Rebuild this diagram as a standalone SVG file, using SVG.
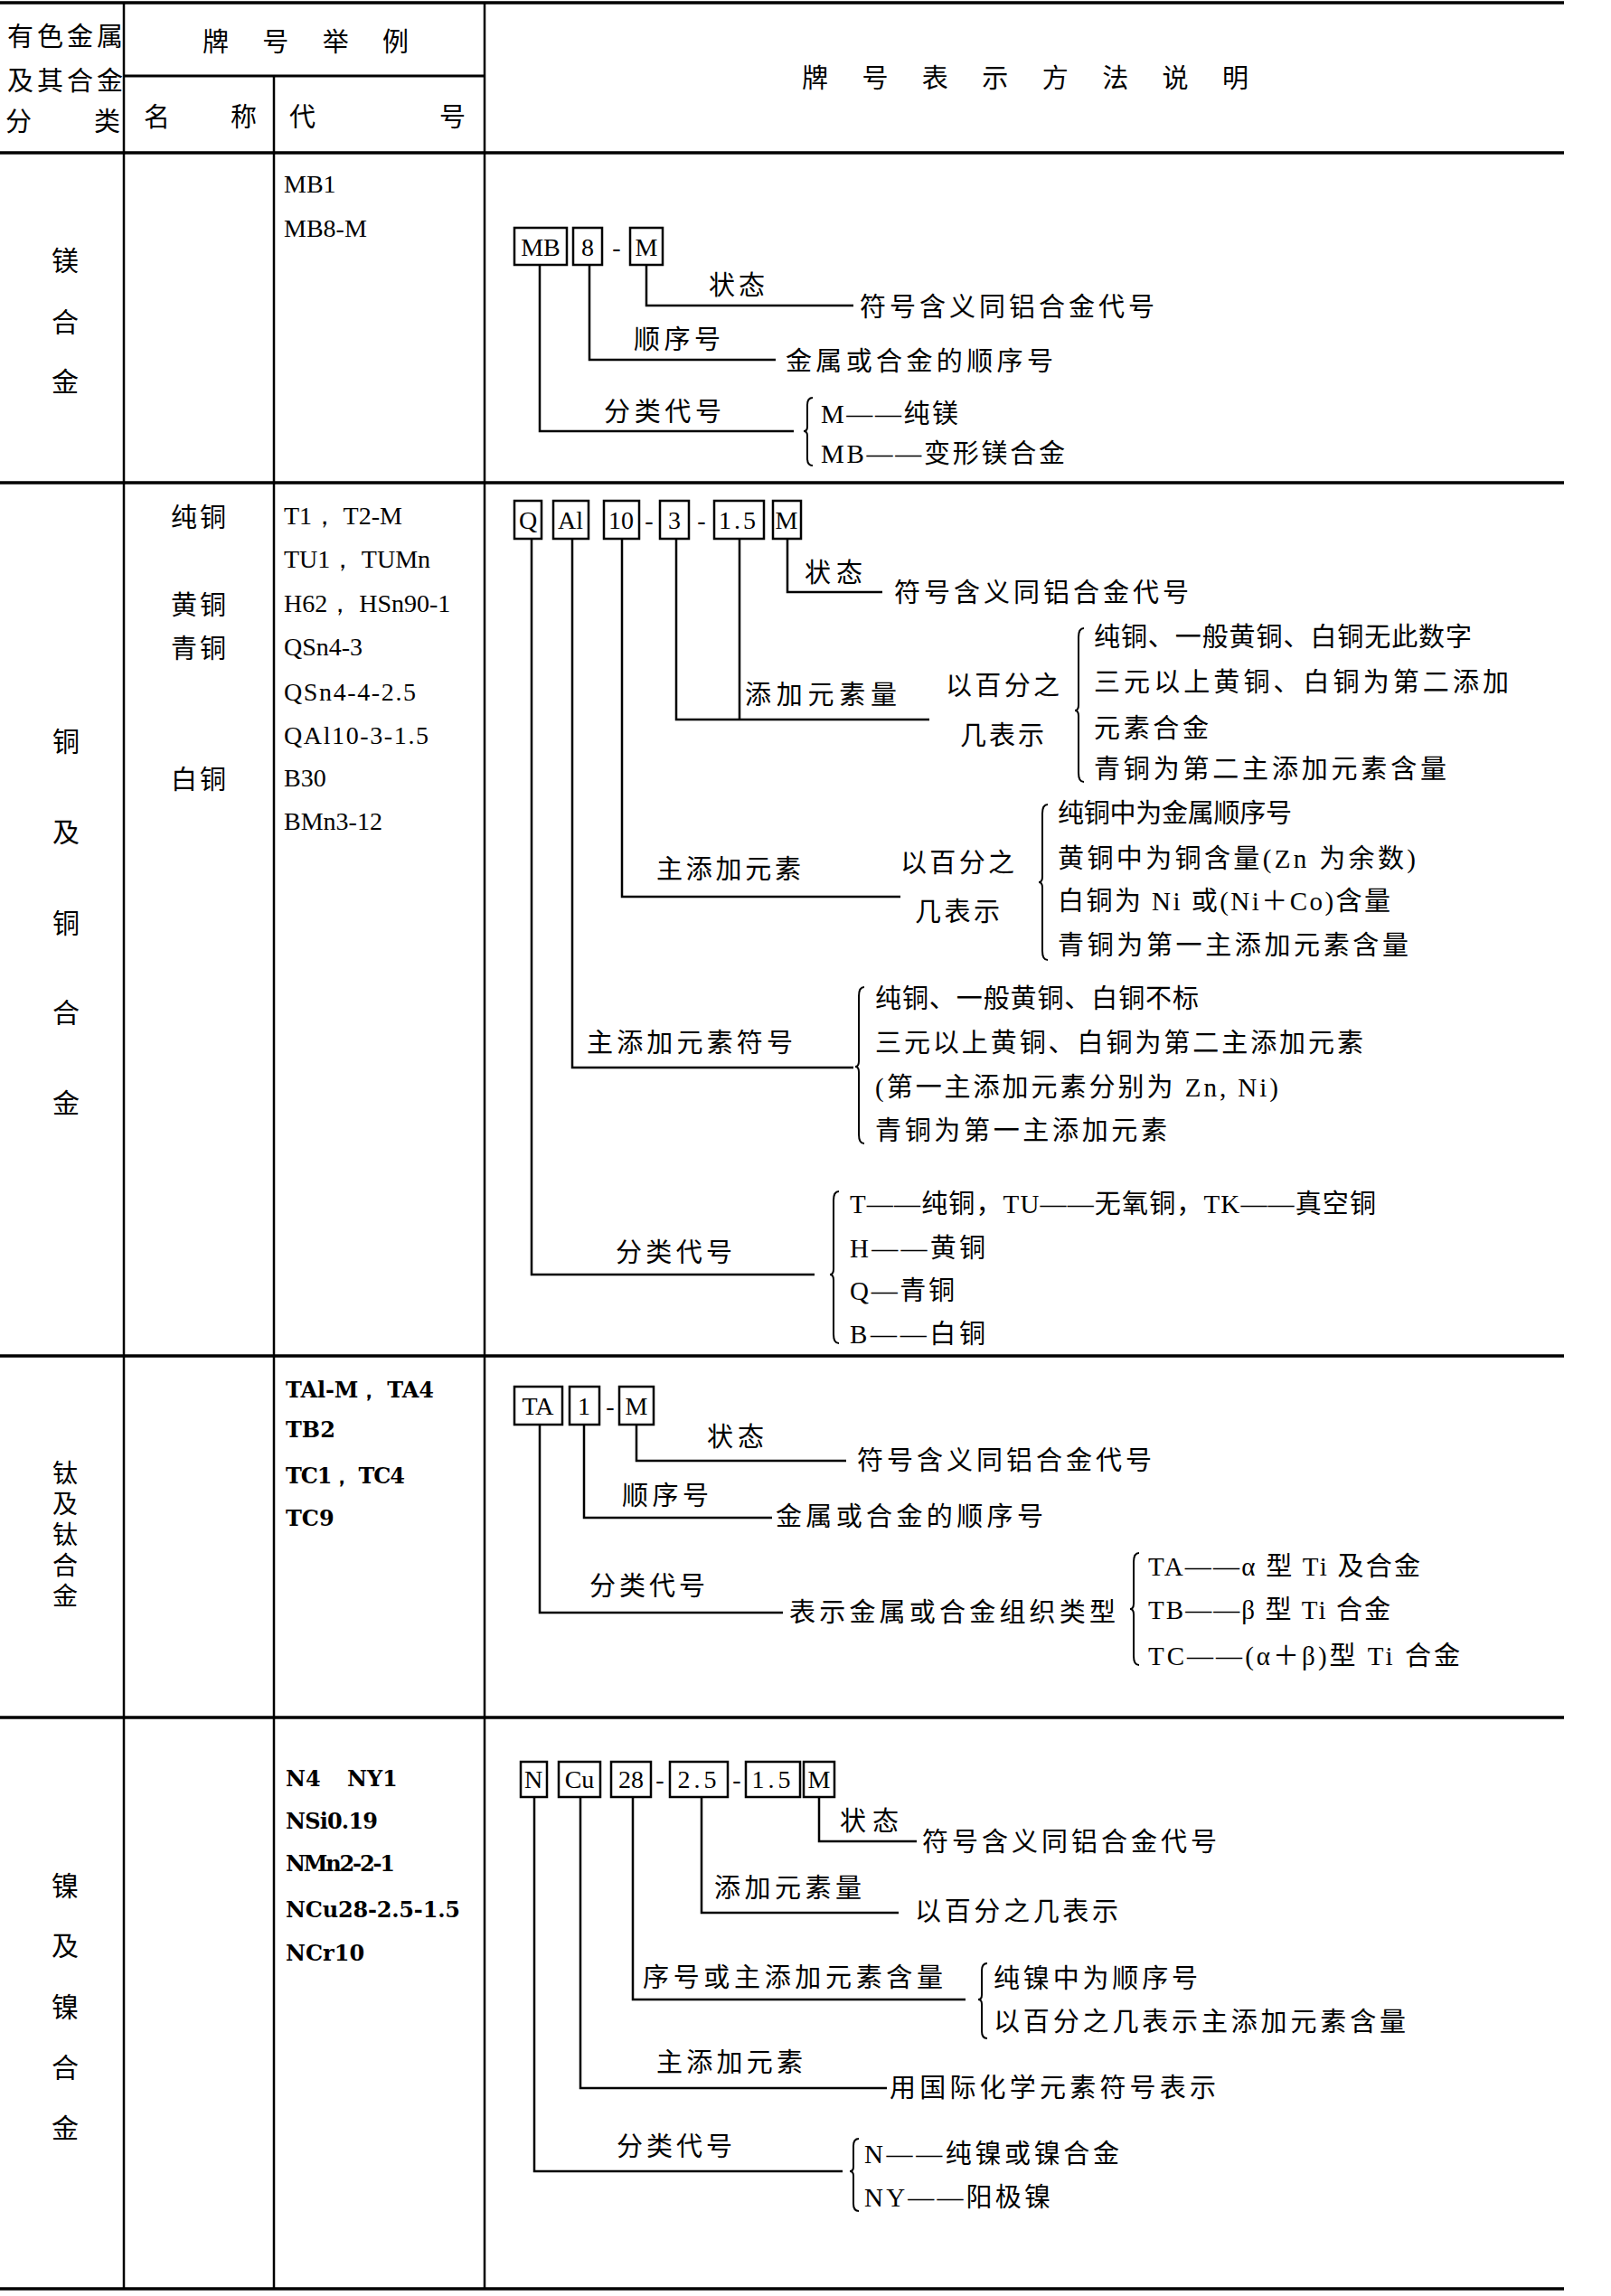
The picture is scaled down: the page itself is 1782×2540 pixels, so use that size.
<svg xmlns="http://www.w3.org/2000/svg" width="1782" height="2540" viewBox="0 0 1782 2540">
<style>
text{dominant-baseline:central;fill:#000}
.t{font-family:"Liberation Serif","Noto Sans CJK SC",serif;font-size:29px}
.c{font-family:"Noto Sans CJK SC",sans-serif;font-size:29px}
.cat{font-family:"Noto Sans CJK SC",sans-serif;font-size:30px;text-anchor:middle}
.code{font-family:"Liberation Serif",serif;font-size:28px}
.dj{font-family:"DejaVu Serif",serif;font-weight:bold;font-size:24px}
.bt{font-family:"Liberation Serif",serif;font-size:28px;text-anchor:middle}
.hl{stroke:#000;stroke-width:3.5;fill:none}
.vl{stroke:#000;stroke-width:2.5;fill:none}
.ln{stroke:#000;stroke-width:2.5;fill:none}
.br{stroke:#000;stroke-width:2;fill:none}
.bx{fill:#fff;stroke:#000;stroke-width:2.5}
</style>
<rect width="1782" height="2540" fill="#fff"/>

<g id="table">
<path class="hl" d="M0,3 H1730 M0,169 H1730 M0,534 H1730 M0,1500 H1730 M0,1900 H1730 M0,2532 H1730"/>
<path class="hl" d="M137,84 H536" style="stroke-width:3"/>
<path class="vl" d="M137,3 V2532 M303,84 V2532 M536,3 V2532"/>
</g>

<g id="header">
<text class="c" x="8" y="38" textLength="128" font-size="30">有色金属</text>
<text class="c" x="8" y="87" textLength="128" font-size="30">及其合金</text>
<text class="c" x="6" y="132" font-size="30">分</text>
<text class="c" x="104" y="132" font-size="30">类</text>
<text class="c" x="224" y="44" textLength="228">牌号举例</text>
<text class="c" x="159" y="127">名</text>
<text class="c" x="255" y="127">称</text>
<text class="c" x="320" y="127">代</text>
<text class="c" x="486" y="127">号</text>
<text class="c" x="887" y="84" textLength="494">牌号表示方法说明</text>
</g>

<g id="categories">
<text class="cat" x="72" y="286">镁</text>
<text class="cat" x="72" y="354">合</text>
<text class="cat" x="72" y="420">金</text>
<text class="cat" x="73" y="818">铜</text>
<text class="cat" x="73" y="918">及</text>
<text class="cat" x="73" y="1019">铜</text>
<text class="cat" x="73" y="1118">合</text>
<text class="cat" x="73" y="1218">金</text>
<text class="cat" x="72" y="1615" writing-mode="vertical-rl" style="text-anchor:start;font-size:28px" letter-spacing="6">钛及钛合金</text>
<text class="cat" x="72" y="2084">镍</text>
<text class="cat" x="72" y="2150">及</text>
<text class="cat" x="72" y="2218">镍</text>
<text class="cat" x="72" y="2285">合</text>
<text class="cat" x="72" y="2352">金</text>
</g>

<g id="names">
<text class="c" x="189" y="570" textLength="61">纯铜</text>
<text class="c" x="189" y="667" textLength="61">黄铜</text>
<text class="c" x="189" y="715" textLength="61">青铜</text>
<text class="c" x="189" y="860" textLength="61">白铜</text>
</g>

<g id="codes">
<text class="code" x="314" y="203">MB1</text>
<text class="code" x="314" y="252">MB8-M</text>
<text class="code" x="314" y="570">T1， T2-M</text>
<text class="code" x="314" y="618">TU1， TUMn</text>
<text class="code" x="314" y="667">H62， HSn90-1</text>
<text class="code" x="314" y="715">QSn4-3</text>
<text class="code" x="314" y="765" textLength="146">QSn4-4-2.5</text>
<text class="code" x="314" y="813" textLength="160">QAl10-3-1.5</text>
<text class="code" x="314" y="860">B30</text>
<text class="code" x="314" y="908">BMn3-12</text>
<text class="dj" x="316" y="1537" textLength="164">TAl-M， TA4</text>
<text class="dj" x="316" y="1581">TB2</text>
<text class="dj" x="316" y="1632" textLength="132">TC1， TC4</text>
<text class="dj" x="316" y="1679">TC9</text>
<text class="dj" x="316" y="1967">N4</text>
<text class="dj" x="384" y="1967">NY1</text>
<text class="dj" x="316" y="2014" textLength="102">NSi0.19</text>
<text class="dj" x="316" y="2061" textLength="121">NMn2-2-1</text>
<text class="dj" x="316" y="2112" textLength="193">NCu28-2.5-1.5</text>
<text class="dj" x="316" y="2160">NCr10</text>
</g>

<!-- Magnesium -->
<g id="mg-boxes">
<g id="mg-MB"><rect class="bx" x="569" y="252" width="58" height="41"/><text class="bt" x="598" y="273">MB</text></g>
<g id="mg-8"><rect class="bx" x="634" y="252" width="32" height="41"/><text class="bt" x="650" y="273">8</text></g>
<text class="bt" x="682" y="273">-</text>
<g id="mg-M"><rect class="bx" x="697" y="252" width="36" height="41"/><text class="bt" x="715" y="273">M</text></g>
</g>

<!-- Copper -->
<g id="cu-boxes">
<g id="cu-Q"><rect class="bx" x="569" y="554" width="30" height="42"/><text class="bt" x="584" y="575">Q</text></g>
<g id="cu-Al"><rect class="bx" x="612" y="554" width="39" height="42"/><text class="bt" x="631" y="575">Al</text></g>
<g id="cu-10"><rect class="bx" x="668" y="554" width="39" height="42"/><text class="bt" x="687" y="575">10</text></g>
<text class="bt" x="718" y="575">-</text>
<g id="cu-3"><rect class="bx" x="730" y="554" width="32" height="42"/><text class="bt" x="746" y="575">3</text></g>
<text class="bt" x="776" y="575">-</text>
<g id="cu-15"><rect class="bx" x="790" y="554" width="55" height="42"/><text class="bt" x="817" y="575" letter-spacing="3">1.5</text></g>
<g id="cu-M"><rect class="bx" x="855" y="554" width="31" height="42"/><text class="bt" x="870" y="575">M</text></g>
</g>

<!-- Titanium -->
<g id="ti-boxes">
<g id="ti-TA"><rect class="bx" x="569" y="1534" width="53" height="42"/><text class="bt" x="595" y="1555">TA</text></g>
<g id="ti-1"><rect class="bx" x="630" y="1534" width="33" height="42"/><text class="bt" x="646" y="1555">1</text></g>
<text class="bt" x="675" y="1555">-</text>
<g id="ti-M"><rect class="bx" x="685" y="1534" width="38" height="42"/><text class="bt" x="704" y="1555">M</text></g>
</g>

<!-- Nickel -->
<g id="ni-boxes">
<g id="ni-N"><rect class="bx" x="576" y="1949" width="29" height="39"/><text class="bt" x="590" y="1968">N</text></g>
<g id="ni-Cu"><rect class="bx" x="618" y="1949" width="46" height="39"/><text class="bt" x="641" y="1968">Cu</text></g>
<g id="ni-28"><rect class="bx" x="676" y="1949" width="44" height="39"/><text class="bt" x="698" y="1968">28</text></g>
<text class="bt" x="730" y="1968">-</text>
<g id="ni-25"><rect class="bx" x="741" y="1949" width="64" height="39"/><text class="bt" x="773" y="1968" letter-spacing="4">2.5</text></g>
<text class="bt" x="815" y="1968">-</text>
<g id="ni-15"><rect class="bx" x="825" y="1949" width="60" height="39"/><text class="bt" x="855" y="1968" letter-spacing="4">1.5</text></g>
<g id="ni-M"><rect class="bx" x="889" y="1949" width="34" height="39"/><text class="bt" x="906" y="1968">M</text></g>
</g>

<g id="connectors">
<!-- Mg -->
<path class="ln" d="M597,293 V477 H878 M652,293 V398 H858 M715,293 V338 H944"/>
<path class="br" d="M899,440 Q893,440 893,448 V472 Q893,477 889,477 Q893,477 893,482 V507 Q893,515 899,515"/>
<!-- Cu -->
<path class="ln" d="M588,596 V1410 H901 M633,596 V1181 H944 M688,596 V992 H996 M748,596 V796 H1028 M818,596 V796 M871,596 V655 H976"/>
<path class="br" d="M1199,695 Q1193,695 1193,705 V780 Q1193,786 1189,786 Q1193,786 1193,792 V855 Q1193,865 1199,865"/>
<path class="br" d="M1159,890 Q1153,890 1153,900 V970 Q1153,976 1149,976 Q1153,976 1153,982 V1052 Q1153,1062 1159,1062"/>
<path class="br" d="M956,1092 Q950,1092 950,1102 V1174 Q950,1180 946,1180 Q950,1180 950,1186 V1255 Q950,1265 956,1265"/>
<path class="br" d="M928,1318 Q922,1318 922,1328 V1404 Q922,1410 918,1410 Q922,1410 922,1416 V1476 Q922,1486 928,1486"/>
<!-- Ti -->
<path class="ln" d="M597,1576 V1784 H866 M646,1576 V1679 H854 M704,1576 V1616 H936"/>
<path class="br" d="M1260,1718 Q1254,1718 1254,1728 V1774 Q1254,1780 1250,1780 Q1254,1780 1254,1786 V1832 Q1254,1842 1260,1842"/>
<!-- Ni -->
<path class="ln" d="M591,1988 V2402 H932 M642,1988 V2310 H981 M700,1988 V2212 H1068 M776,1988 V2116 H994 M906,1988 V2037 H1014"/>
<path class="br" d="M1092,2172 Q1086,2172 1086,2180 V2207 Q1086,2212 1082,2212 Q1086,2212 1086,2217 V2247 Q1086,2255 1092,2255"/>
<path class="br" d="M950,2366 Q944,2366 944,2374 V2397 Q944,2402 940,2402 Q944,2402 944,2407 V2438 Q944,2446 950,2446"/>
</g>

<g id="mg-labels">
<text class="t" x="784" y="316" textLength="62">状态</text>
<text class="t" x="951" y="340" textLength="326">符号含义同铝合金代号</text>
<text class="t" x="701" y="376" textLength="96">顺序号</text>
<text class="t" x="869" y="400" textLength="296">金属或合金的顺序号</text>
<text class="t" x="668" y="456" textLength="130">分类代号</text>
<text class="t" x="908" y="458" textLength="152">M——纯镁</text>
<text class="t" x="908" y="502" textLength="270">MB——变形镁合金</text>
</g>

<g id="cu-labels">
<text class="t" x="890" y="634" textLength="64">状态</text>
<text class="t" x="989" y="656" textLength="326">符号含义同铝合金代号</text>
<text class="t" x="824" y="769" textLength="168">添加元素量</text>
<text class="t" x="1046" y="759" textLength="126">以百分之</text>
<text class="t" x="1062" y="814" textLength="93">几表示</text>
<text class="t" x="1210" y="705" textLength="418">纯铜、一般黄铜、白铜无此数字</text>
<text class="t" x="1210" y="755" textLength="459">三元以上黄铜、白铜为第二添加</text>
<text class="t" x="1210" y="806" textLength="127">元素合金</text>
<text class="t" x="1210" y="851" textLength="390">青铜为第二主添加元素含量</text>
<text class="t" x="726" y="962" textLength="160">主添加元素</text>
<text class="t" x="996" y="955" textLength="126">以百分之</text>
<text class="t" x="1012" y="1009" textLength="94">几表示</text>
<text class="t" x="1170" y="900" textLength="259">纯铜中为金属顺序号</text>
<text class="t" x="1170" y="950" textLength="396">黄铜中为铜含量(Zn 为余数)</text>
<text class="t" x="1170" y="997" textLength="368">白铜为 Ni 或(Ni＋Co)含量</text>
<text class="t" x="1170" y="1046" textLength="388">青铜为第一主添加元素含量</text>
<text class="t" x="649" y="1154" textLength="228">主添加元素符号</text>
<text class="t" x="968" y="1105" textLength="358">纯铜、一般黄铜、白铜不标</text>
<text class="t" x="968" y="1154" textLength="540">三元以上黄铜、白铜为第二主添加元素</text>
<text class="t" x="968" y="1203" textLength="446">(第一主添加元素分别为 Zn, Ni)</text>
<text class="t" x="968" y="1251" textLength="323">青铜为第一主添加元素</text>
<text class="t" x="681" y="1386" textLength="129">分类代号</text>
<text class="t" x="940" y="1332" textLength="582">T——纯铜，TU——无氧铜，TK——真空铜</text>
<text class="t" x="940" y="1381" textLength="150">H——黄铜</text>
<text class="t" x="940" y="1428" textLength="116">Q—青铜</text>
<text class="t" x="940" y="1476" textLength="150">B——白铜</text>
</g>

<g id="ti-labels">
<text class="t" x="782" y="1590" textLength="63">状态</text>
<text class="t" x="948" y="1616" textLength="326">符号含义同铝合金代号</text>
<text class="t" x="688" y="1655" textLength="96">顺序号</text>
<text class="t" x="858" y="1678" textLength="296">金属或合金的顺序号</text>
<text class="t" x="652" y="1755" textLength="128">分类代号</text>
<text class="t" x="873" y="1784" textLength="361">表示金属或合金组织类型</text>
<text class="t" x="1270" y="1733" textLength="301">TA——α 型 Ti 及合金</text>
<text class="t" x="1270" y="1781" textLength="268">TB——β 型 Ti 合金</text>
<text class="t" x="1270" y="1832" textLength="345">TC——(α＋β)型 Ti 合金</text>
</g>

<g id="ni-labels">
<text class="t" x="929" y="2015" textLength="65">状态</text>
<text class="t" x="1020" y="2038" textLength="326">符号含义同铝合金代号</text>
<text class="t" x="790" y="2089" textLength="163">添加元素量</text>
<text class="t" x="1012" y="2115" textLength="225">以百分之几表示</text>
<text class="t" x="711" y="2188" textLength="332">序号或主添加元素含量</text>
<text class="t" x="1099" y="2189" textLength="226">纯镍中为顺序号</text>
<text class="t" x="1099" y="2237" textLength="456">以百分之几表示主添加元素含量</text>
<text class="t" x="726" y="2282" textLength="162">主添加元素</text>
<text class="t" x="984" y="2310" textLength="361">用国际化学元素符号表示</text>
<text class="t" x="682" y="2375" textLength="128">分类代号</text>
<text class="t" x="956" y="2383" textLength="282">N——纯镍或镍合金</text>
<text class="t" x="956" y="2431" textLength="206">NY——阳极镍</text>
</g>
</svg>
